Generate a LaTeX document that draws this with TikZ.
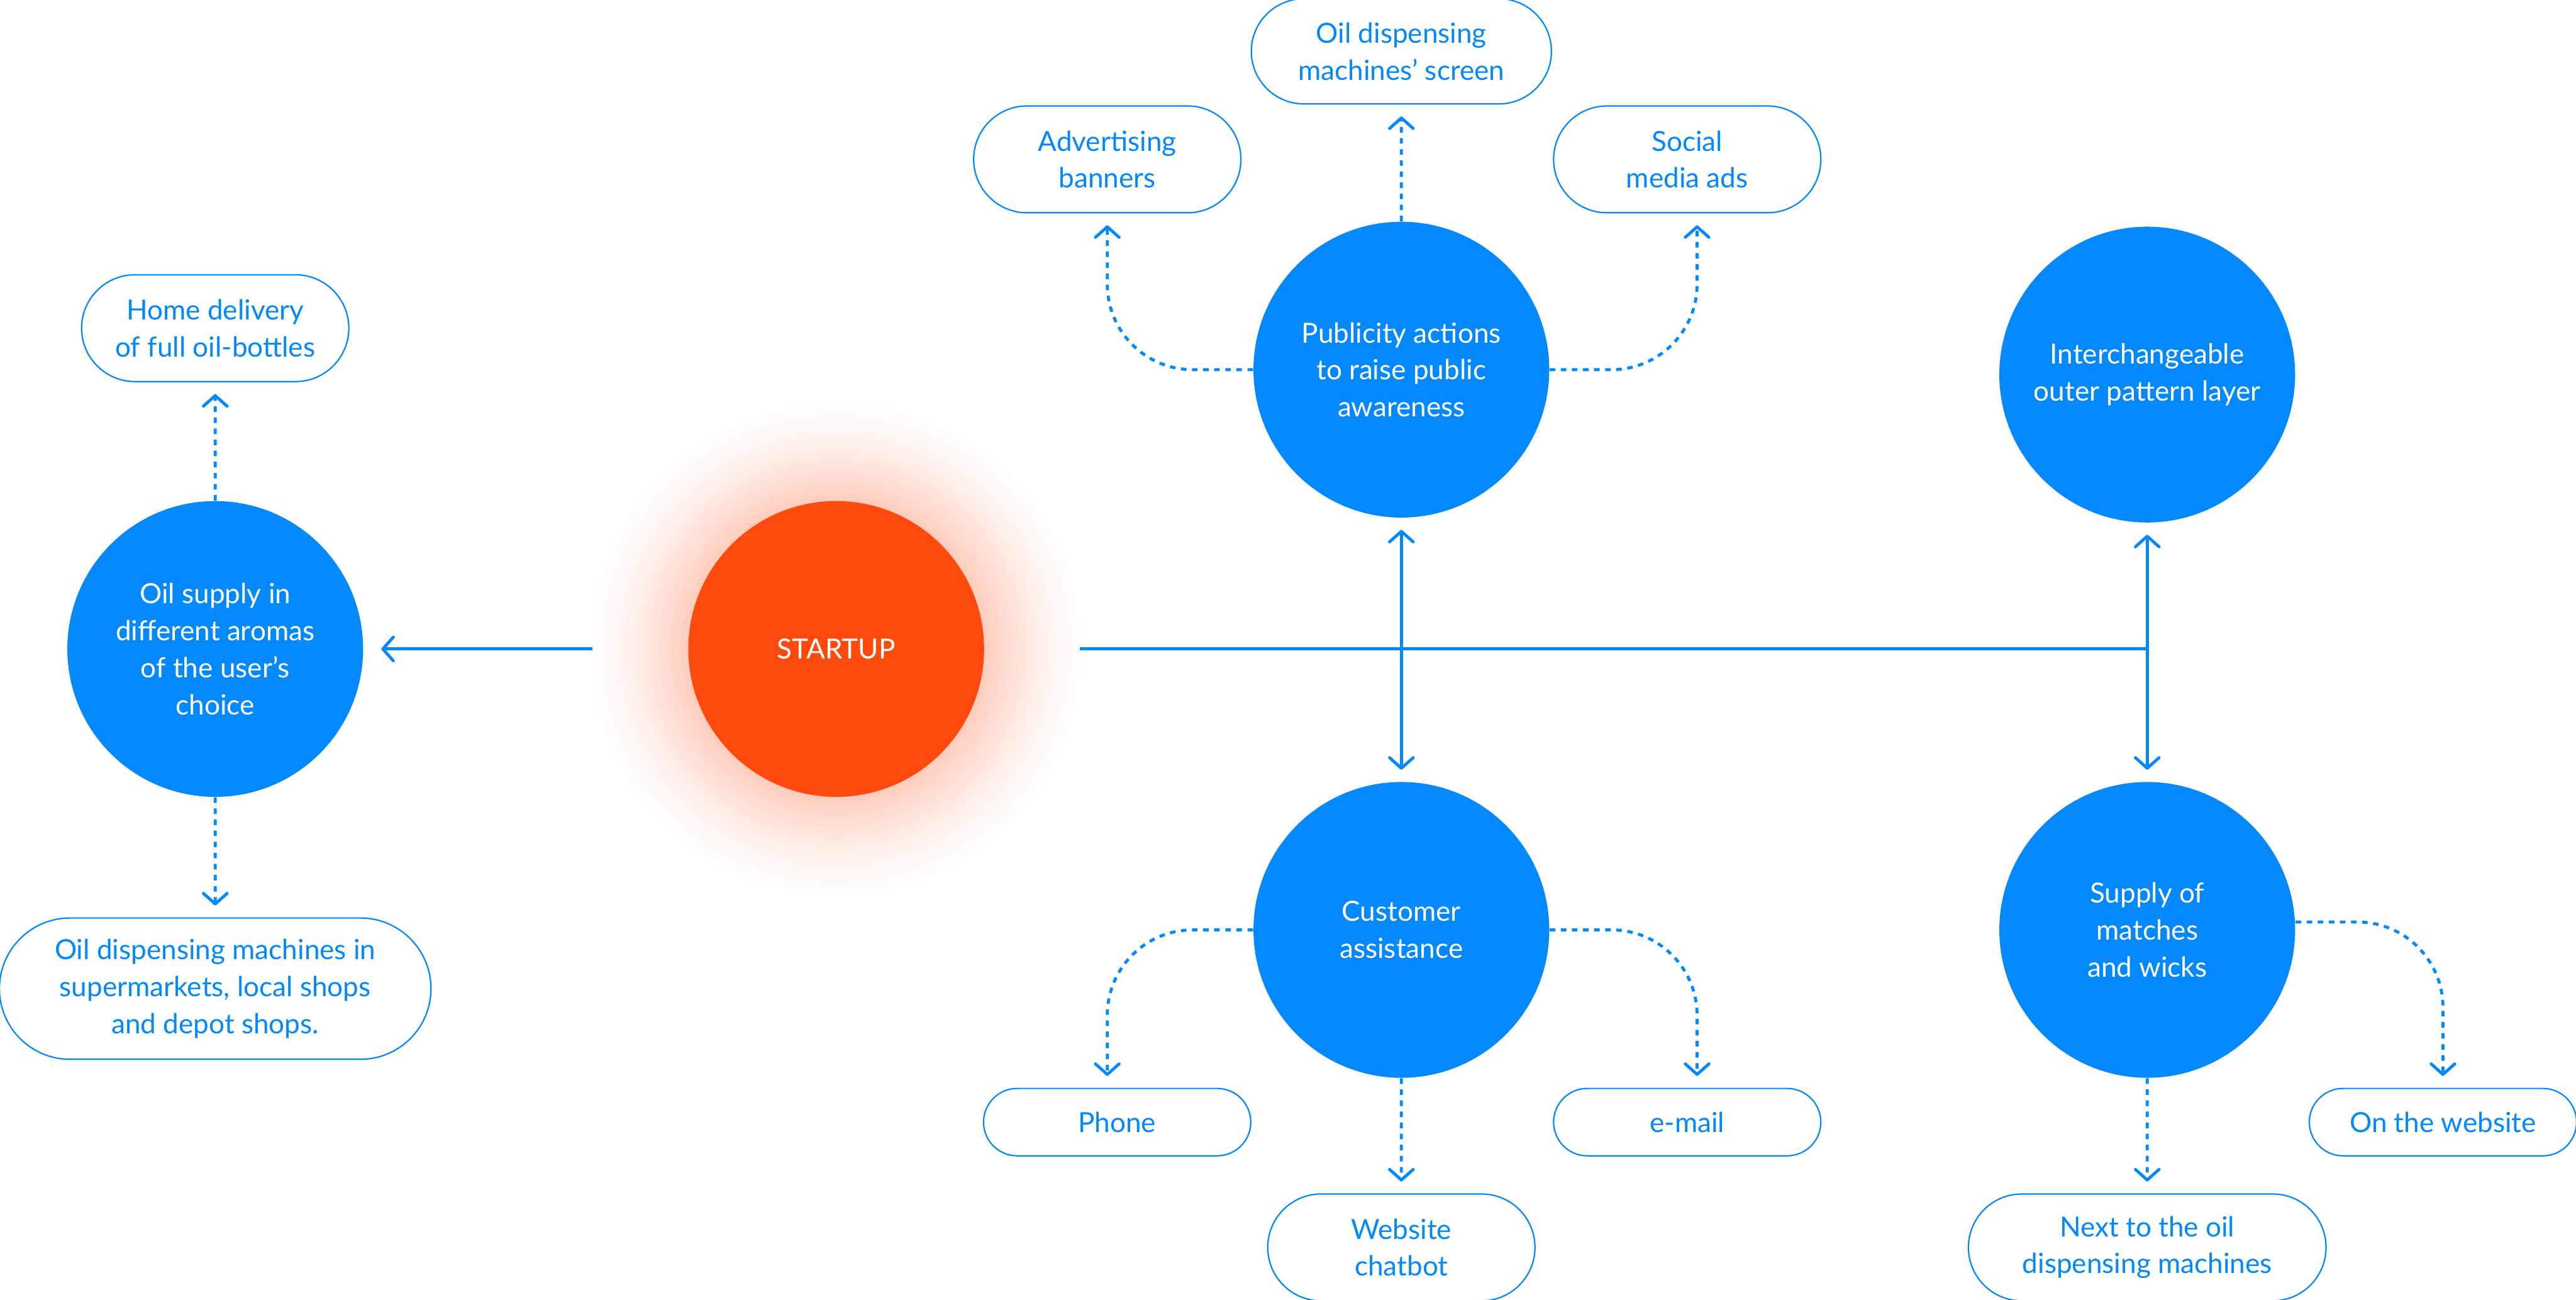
\documentclass[tikz,border=0pt]{standalone}
\usepackage{fontspec}
\setmainfont{Lato}
\usetikzlibrary{positioning, arrows.meta, shapes.misc}

\definecolor{brand}{HTML}{0388FD}
\definecolor{flame}{HTML}{FF4A0D}

\begin{document}
\begin{tikzpicture}[
    x=0.025cm, y=-0.025cm, % one unit = one pixel of the sketch, y downwards
    every node/.style={font=\fontsize{12}{16}\selectfont, align=center},
    >={Straight Barb[length=1.6mm, width=3.6mm, round]},
    hub/.style={circle, fill=brand, text=white, minimum size=4.5cm, inner sep=0pt},
    pill/.style={rounded rectangle, draw=brand, line width=0.6pt, text=brand,
        minimum width=4.3cm, minimum height=1.625cm},
    link/.style={draw=brand, line width=1.3pt},
    dash link/.style={link, ->, dash pattern=on 2.4pt off 2.4pt,
        rounded corners=1.3cm, shorten >=0.18cm}
]
    \useasboundingbox (0,0) rectangle (1568,791);

    % soft glow round the startup
    \foreach \i in {0,...,50} {
        \pgfmathsetmacro\rr{3.8-\i*0.0385}
        \pgfmathsetmacro\pp{38*(\i/50)^1.4}
        \fill[flame!\pp!white] (509,395) circle[radius=\rr cm];
    }
    \node[circle, minimum size=7.4cm] (glow) at (509,395) {};
    \node[hub, fill=flame] (startup) at (509,395) {STARTUP};

    % left branch
    \node[hub] (oil) at (131,395) {Oil supply in\\different aromas\\of the user’s\\choice};
    \node[pill, above=1.8cm of oil] (home) {Home delivery\\of full oil-bottles};
    \node[pill, below=1.825cm of oil, minimum width=6.8cm, minimum height=2.15cm] (shops)
        {Oil dispensing machines in\\supermarkets, local shops\\and depot shops.};

    % publicity
    \node[hub] (pub) at (853,225) {Publicity actions\\to raise public\\awareness};
    \node[pill, above=1.775cm of pub, minimum width=4.8cm, minimum height=1.6cm] (screen)
        {Oil dispensing\\machines’ screen};
    \node[pill] (banners) at (674,97) {Advertising\\banners};
    \node[pill] (social) at (1027,97) {Social\\media ads};

    % customer assistance
    \node[hub] (cust) at (853,566) {Customer\\assistance};
    \node[pill, minimum height=1.025cm] (phone) at (680,683) {Phone};
    \node[pill, minimum height=1.025cm] (email) at (1027,683) {e-mail};
    \node[pill, below=1.75cm of cust] (chat) {Website\\chatbot};

    % pattern layer and matches
    \node[hub] (layer) at (1307,228) {Interchangeable\\outer pattern layer};
    \node[hub] (supply) at (1307,566) {Supply of\\matches\\and wicks};
    \node[pill, below=1.75cm of supply, minimum width=5.675cm] (next)
        {Next to the oil\\dispensing machines};
    \node[pill, minimum height=1.025cm] (web) at (1487,683) {On the website};

    \coordinate (joint) at (layer |- startup);

    % solid connectors
    \draw[link, ->, shorten >=0.27cm] (glow) -- (oil);
    \draw[link] (glow.east) -- (joint);
    \draw[link, <->, shorten <=0.18cm, shorten >=0.18cm] (pub) -- (cust);
    \draw[link, <->, shorten <=0.18cm, shorten >=0.18cm] (layer) -- (supply);

    % dashed connectors
    \draw[dash link] (oil) -- (home);
    \draw[dash link] (oil) -- (shops);
    \draw[dash link] (pub) -- (screen);
    \draw[dash link] (pub.west) -| (banners.south);
    \draw[dash link] (pub.east) -| ([xshift=0.15cm]social.south);
    \draw[dash link] (cust.west) -| ([xshift=-0.15cm]phone.north);
    \draw[dash link] (cust.east) -| ([xshift=0.15cm]email.north);
    \draw[dash link] (cust) -- (chat);
    \draw[dash link] (supply) -- (next);
    \draw[dash link] ([yshift=0.12cm]supply.east) -| (web.north);
\end{tikzpicture}
\end{document}
